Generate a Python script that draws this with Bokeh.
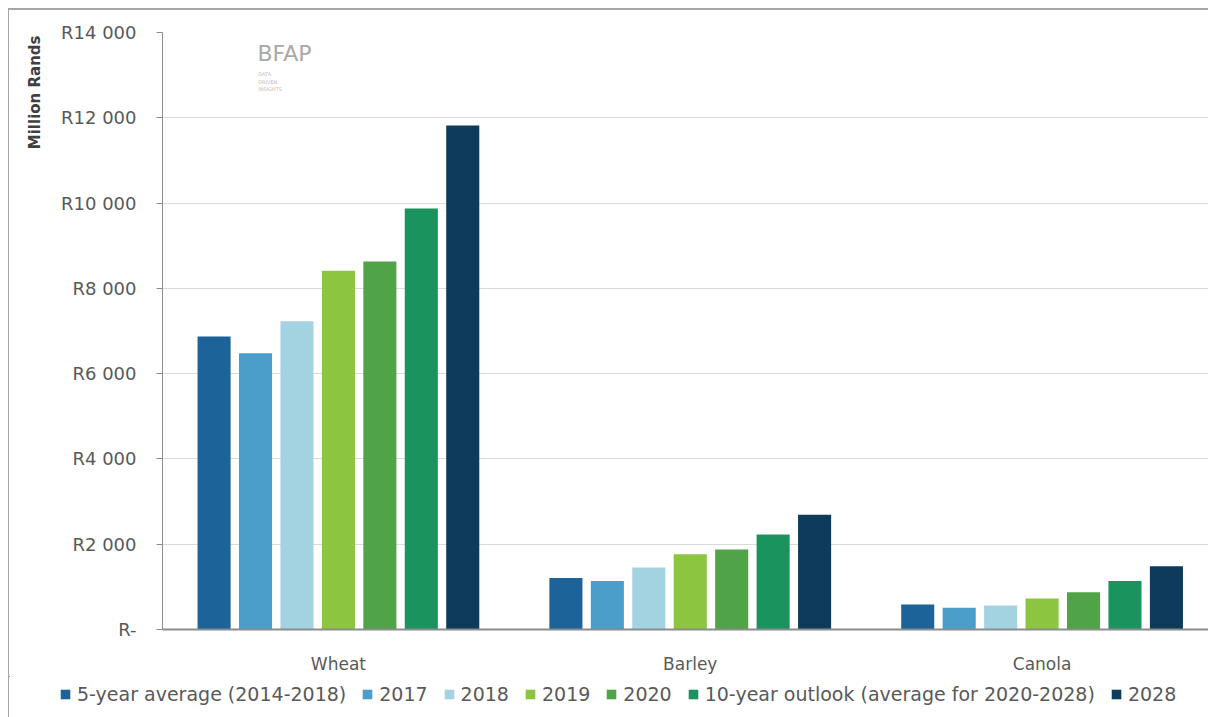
import numpy as np
from bokeh.plotting import figure
from bokeh.layouts import column
from bokeh.models import Range1d, FixedTicker, Legend, LegendItem, Label, Title
from bokeh.embed import file_html
from bokeh.resources import INLINE

# ---------------- data ----------------
categories = ["Wheat", "Barley", "Canola"]
series_names = ["5-year average (2014-2018)", "2017", "2018", "2019", "2020",
                "10-year outlook (average for 2020-2028)", "2028"]
avg_2014_2018 = [6870, 1210, 585]
v2017 = [6480, 1140, 510]
v2018 = [7230, 1452, 565]
v2019 = [8410, 1765, 728]
v2020 = [8630, 1875, 873]
outlook_2020_2028 = [9870, 2225, 1140]
v2028 = [11820, 2690, 1482]
y_ticks = [0, 2000, 4000, 6000, 8000, 10000, 12000, 14000]
y_tick_labels = ["R-", "R2 000", "R4 000", "R6 000", "R8 000", "R10 000", "R12 000", "R14 000"]

series_values = [avg_2014_2018, v2017, v2018, v2019, v2020, outlook_2020_2028, v2028]
colors = ["#1b6399", "#4b9ec9", "#a3d3e1", "#8cc540", "#50a447", "#1b935f", "#0e3a5c"]

FONT = "DejaVu Sans"
TXT = "#595959"

p = figure(width=1199, height=666,
           x_range=Range1d(0, 2.973), y_range=Range1d(0, 14000),
           output_backend="svg", toolbar_location=None,
           min_border_left=153, min_border_right=0,
           min_border_top=22, min_border_bottom=46)
p.outline_line_color = None
p.background_fill_color = "white"

centers = np.arange(len(categories)) + 0.5
pitch = 0.1178
bar_w = 0.094
for i, (vals, col) in enumerate(zip(series_values, colors)):
    xs = centers + (i - 3) * pitch
    p.vbar(x=xs, top=vals, width=bar_w, fill_color=col, line_color=None)

# grid
p.xgrid.visible = False
p.ygrid.ticker = FixedTicker(ticks=y_ticks)
p.ygrid.grid_line_color = "#dadada"
p.ygrid.grid_line_width = 1

# y axis
ya = p.yaxis[0]
ya.ticker = FixedTicker(ticks=y_ticks)
ya.major_label_overrides = {t: l for t, l in zip(y_ticks, y_tick_labels)}
ya.axis_line_color = "#8c8c8c"
ya.major_tick_line_color = "#8c8c8c"
ya.major_tick_out = 6
ya.major_tick_in = 0
ya.minor_tick_line_color = None
ya.major_label_standoff = 20
ya.major_label_text_font = FONT
ya.major_label_text_font_size = "18px"
ya.major_label_text_color = TXT

# x axis
xa = p.xaxis[0]
xa.ticker = FixedTicker(ticks=list(centers))
xa.major_label_overrides = {float(c): n for c, n in zip(centers, categories)}
xa.axis_line_color = "#8c8c8c"
xa.axis_line_width = 2
xa.major_tick_line_color = None
xa.major_tick_out = 0
xa.major_tick_in = 0
xa.minor_tick_line_color = None
xa.major_label_standoff = 24
xa.major_label_text_font = FONT
xa.major_label_text_font_size = "17px"
xa.major_label_text_color = TXT

# y title near the top of the axis, like the reference
p.add_layout(Title(text="Million Rands", align="right", offset=3, standoff=29,
                   text_font=FONT, text_font_style="bold",
                   text_font_size="15px", text_color="#404040"), "left")

# BFAP logo text
p.add_layout(Label(x=0.27, y=13497, text="BFAP", text_align="left",
                   text_baseline="middle", text_font=FONT,
                   text_font_size="22px", text_color="#a8a8a8"))
for k, t in enumerate(["DATA", "DRIVEN", "INSIGHTS"]):
    p.add_layout(Label(x=0.272, y=13020 - k * 170, text=t, text_align="left",
                       text_baseline="middle", text_font=FONT,
                       text_font_size="5px", text_color="#c0c0c0"))

# ---------------- legend strip ----------------
lf = figure(width=1199, height=35, x_range=Range1d(10, 11), y_range=Range1d(-2, -1),
            output_backend="svg", toolbar_location=None,
            x_axis_location=None, y_axis_location=None, min_border=0)
lf.frame_align = False
lf.grid.visible = False
lf.outline_line_color = None
lrs = []
for i, (vals, col) in enumerate(zip(series_values, colors)):
    xs = centers + (i - 3) * pitch
    lrs.append(lf.vbar(x=xs, top=vals, width=bar_w, fill_color=col, line_color=None))

legend = Legend(items=[LegendItem(label=n, renderers=[r]) for n, r in zip(series_names, lrs)],
                orientation="horizontal", location=(50, 6),
                background_fill_alpha=0, border_line_color=None,
                label_text_font=FONT, label_text_font_size="19px",
                label_text_color=TXT, glyph_width=12, glyph_height=12,
                label_standoff=6, spacing=15, padding=4, margin=0)
lf.add_layout(legend, "center")

layout = column(p, lf, spacing=0)
layout.styles = {"margin-left": "8px", "margin-top": "8px", "padding-bottom": "6px",
                 "border-top": "2px solid #a6a6a6", "border-left": "1px solid #a6a6a6"}

open("out.html", "w").write(file_html(layout, INLINE))
